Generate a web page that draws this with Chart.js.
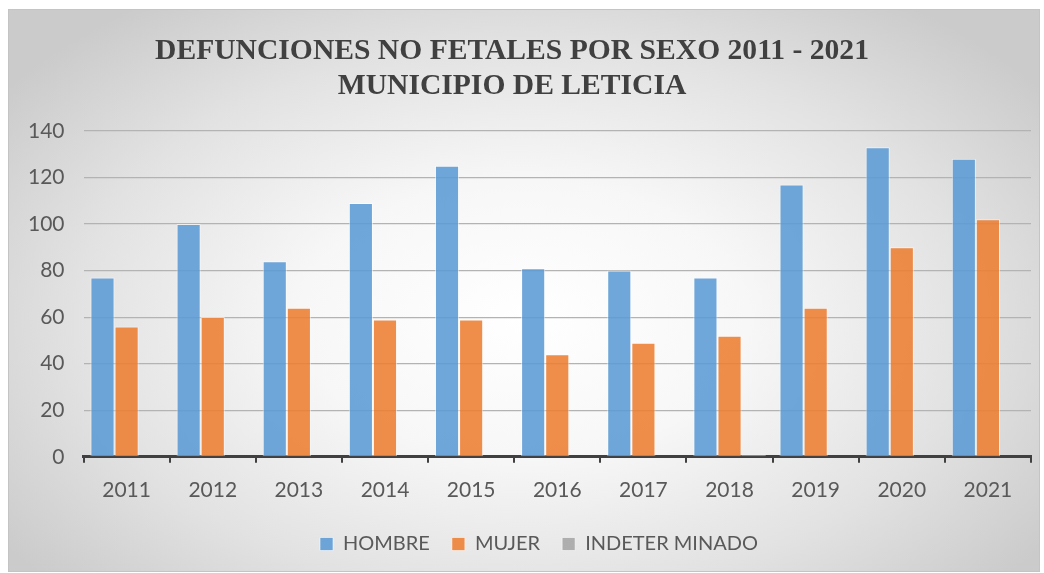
<!DOCTYPE html>
<html>
<head>
<meta charset="utf-8">
<script src="https://cdn.jsdelivr.net/npm/chart.js@4/dist/chart.umd.min.js"></script>
<style>
  html, body { margin: 0; padding: 0; background: #ffffff; }
  #frame {
    position: absolute; left: 8px; top: 9px; width: 1030px; height: 561px;
    border: 1px solid #c4c4c4;
    background: radial-gradient(ellipse 62% 70% at 50% 55%, #ffffff 0%, #f7f7f7 35%, #e2e2e2 70%, #cbcbcb 100%);
  }
</style>
</head>
<body>
<div id="frame"><canvas id="chart" width="1030" height="561"></canvas></div>
<script>
'use strict';

// data
var years = ['2011', '2012', '2013', '2014', '2015', '2016', '2017', '2018', '2019', '2020', '2021'];
var hombre = [77, 100, 84, 109, 125, 81, 80, 77, 117, 133, 128];
var mujer = [56, 60, 64, 59, 59, 44, 49, 52, 64, 90, 102];
var indeterminado = [0, 0, 0, 0, 0, 0, 0, 1, 0, 0, 0];
var yTicks = [0, 20, 40, 60, 80, 100, 120, 140];

var textColor = '#595959',
  sansFont = 'Lato';

function barSet(label, data, fill) {
  return {
    label: label,
    data: data,
    backgroundColor: fill,
    borderColor: 'rgba(255,255,255,0.55)',
    borderWidth: 1,
    categoryPercentage: 0.84,
    barPercentage: 1.0
  };
}

// title sits a bit left of centre and legend a bit right in the original
var nudgeBoxes = {
  id: 'nudgeBoxes',
  afterLayout: function (chart) {
    if (chart.titleBlock) {
      chart.titleBlock.left -= 8;
      chart.titleBlock.right -= 8;
    }
    if (chart.legend) {
      chart.legend.left += 19;
      chart.legend.right += 19;
    }
  }
};

var chartEl = document.getElementById('chart');
var chart = new Chart(chartEl, {
  type: 'bar',
  data: {
    labels: years,
    datasets: [
      barSet('HOMBRE', hombre, 'rgba(91,155,213,0.88)'),
      barSet('MUJER', mujer, 'rgba(237,125,49,0.88)'),
      barSet('INDETER MINADO', indeterminado, 'rgba(165,165,165,0.88)')
    ]
  },
  options: {
    responsive: false,
    animation: false,
    layout: { padding: { left: 0, right: 8, top: 0, bottom: 7 } },
    plugins: {
      tooltip: { enabled: false },
      title: {
        display: true,
        text: ['DEFUNCIONES NO FETALES POR SEXO 2011 - 2021', 'MUNICIPIO DE LETICIA'],
        color: '#404040',
        font: { family: '"Liberation Serif", "Times New Roman", serif', size: 29.6, weight: 'bold', lineHeight: 1.18 },
        padding: { top: 24, bottom: 27 }
      },
      legend: {
        position: 'bottom',
        labels: {
          color: textColor,
          font: { family: sansFont, size: 20 },
          boxWidth: 13,
          boxHeight: 13,
          padding: 22
        }
      }
    },
    scales: {
      x: {
        afterFit: function (scale) {
          scale.height -= 6; // pull the plot down toward the legend
        },
        grid: {
          drawOnChartArea: false,
          drawTicks: true,
          tickLength: 6,
          color: '#404040',
          lineWidth: 2
        },
        border: { display: true, color: '#404040', width: 3 },
        ticks: { color: textColor, font: { family: sansFont, size: 21 }, padding: 15 }
      },
      y: {
        min: 0,
        max: yTicks[yTicks.length - 1],
        afterBuildTicks: function (scale) {
          scale.ticks = yTicks.map(function (v) { return { value: v }; });
        },
        grid: { color: '#b3b3b3', lineWidth: 1.2, drawTicks: false },
        border: { display: false },
        ticks: { color: textColor, font: { family: sansFont, size: 21 }, padding: 19 }
      }
    }
  },
  plugins: [nudgeBoxes]
});
</script>
</body>
</html>
